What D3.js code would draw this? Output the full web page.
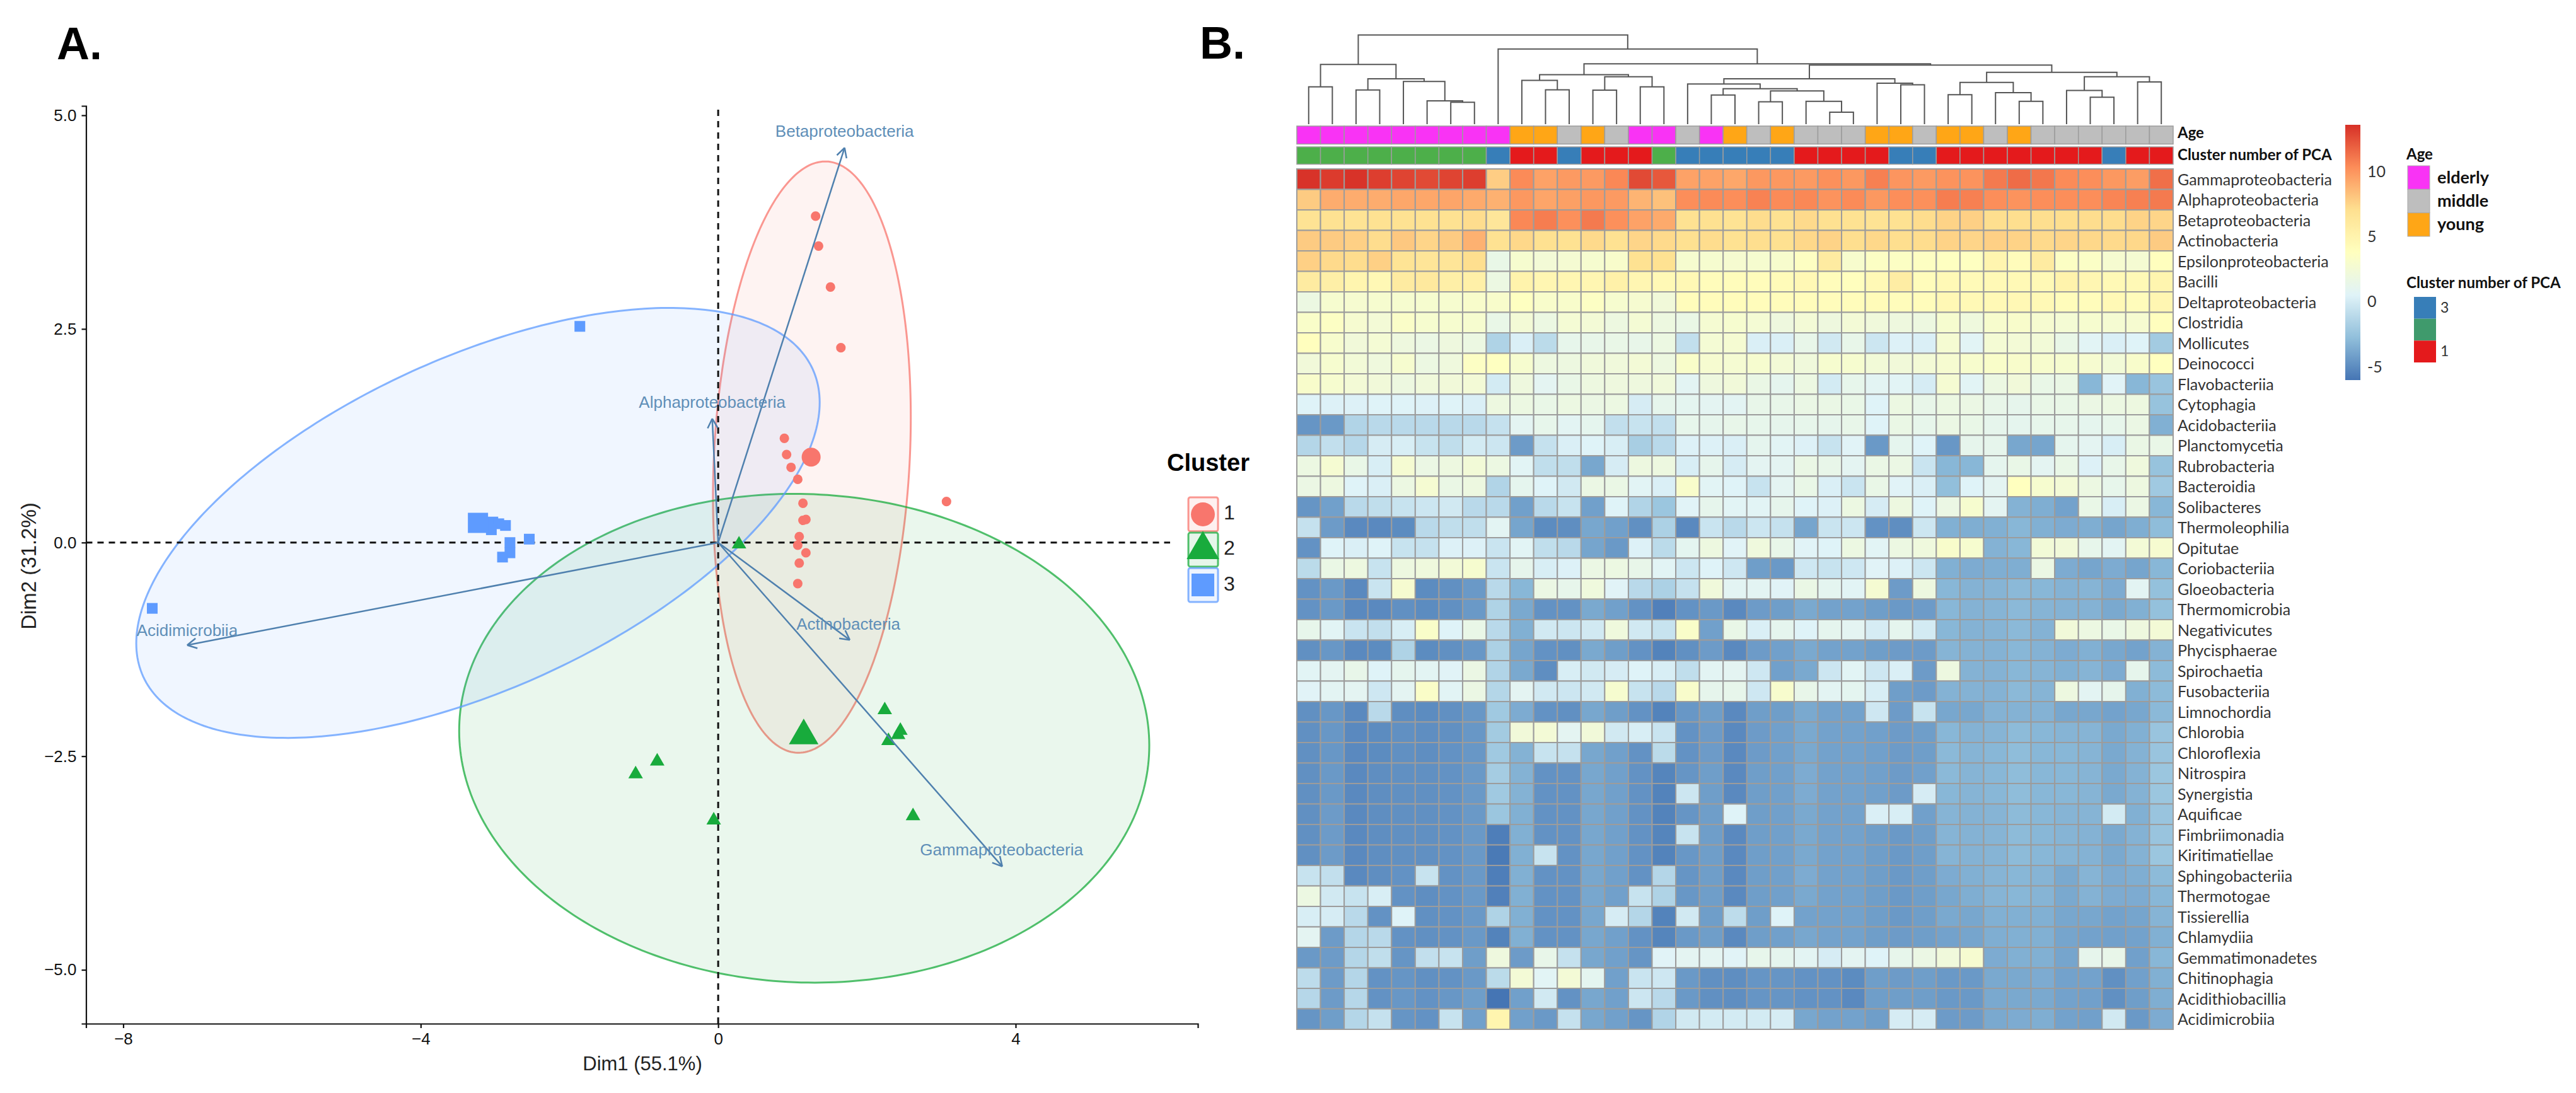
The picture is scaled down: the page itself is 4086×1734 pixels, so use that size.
<!DOCTYPE html>
<html>
<head>
<meta charset="utf-8">
<title>PCA biplot and heatmap</title>
<script src="https://d3js.org/d3.v7.min.js"></script>
<style>
	body {margin: 0; background: #fff;}
	svg {display: block;}
	text {font-family: "Liberation Sans", Arial, sans-serif;}
	.lato {font-family: Lato, sans-serif;}
</style>
</head>
<body>
<div id="chart"></div>
<script>
// ---- panel A values
var cluster1X = [1.31, 1.35, 1.51, 1.65, 0.89, 0.92, 0.98, 1.07, 1.14, 3.07, 1.18, 1.14, 1.09, 1.07, 1.18, 1.09, 1.07];
var cluster1Y = [3.82, 3.47, 2.99, 2.28, 1.22, 1.03, 0.88, 0.74, 0.46, 0.48, 0.27, 0.26, 0.07, -0.03, -0.12, -0.24, -0.48];
var cluster2X = [0.28, 2.24, 2.45, 2.42, 2.29, -0.82, -1.11, -0.06, 2.62];
var cluster2Y = [-0.02, -1.96, -2.2, -2.25, -2.32, -2.56, -2.71, -3.25, -3.2];
var cluster3X = [-1.86, -3.03, -2.86, -2.95, -3.05, -2.54, -2.8, -2.8, -2.9, -7.61];
var cluster3Y = [2.53, 0.24, 0.2, 0.22, 0.15, 0.04, 0, -0.12, -0.17, -0.77];
var clusterNames = ["1", "2", "3"];
var clusterColors = ["#F8766D", "#18AB3C", "#5E9BFF"];
var centroidX = [1.25, 1.15, -3.23];
var centroidY = [1.0, -2.26, 0.23];
// ellipse centre, half extents and correlation
var ellipseCx = [1.26, 1.157, -3.23];
var ellipseCy = [1.0, -2.29, 0.23];
var ellipseSx = [1.33, 4.64, 4.595];
var ellipseSy = [3.46, 2.86, 2.516];
var ellipseR = [0.135, -0.03, 0.56];

var arrowNames = ["Betaproteobacteria", "Alphaproteobacteria", "Actinobacteria", "Gammaproteobacteria", "Acidimicrobiia"];
var arrowX = [1.70, -0.08, 1.77, 3.82, -7.14];
var arrowY = [4.62, 1.45, -1.14, -3.79, -1.2];
var arrowLabelX = [1.70, -0.08, 1.75, 3.81, -7.14];
var arrowLabelY = [4.80, 1.63, -0.97, -3.61, -1.04];

var xTicks = [-8, -4, 0, 4];
var yTicks = [-5, -2.5, 0, 2.5, 5];

// ---- panel B values
var rowLabels = ["Gammaproteobacteria", "Alphaproteobacteria", "Betaproteobacteria", "Actinobacteria", "Epsilonproteobacteria", "Bacilli", "Deltaproteobacteria", "Clostridia", "Mollicutes", "Deinococci", "Flavobacteriia", "Cytophagia", "Acidobacteriia", "Planctomycetia", "Rubrobacteria", "Bacteroidia", "Solibacteres", "Thermoleophilia", "Opitutae", "Coriobacteriia", "Gloeobacteria", "Thermomicrobia", "Negativicutes", "Phycisphaerae", "Spirochaetia", "Fusobacteriia", "Limnochordia", "Chlorobia", "Chloroflexia", "Nitrospira", "Synergistia", "Aquificae", "Fimbriimonadia", "Kiritimatiellae", "Sphingobacteriia", "Thermotogae", "Tissierellia", "Chlamydiia", "Gemmatimonadetes", "Chitinophagia", "Acidithiobacillia", "Acidimicrobiia"];

var ageGroups = ["elderly", "middle", "young"];
var ageColors = ["#F933F5", "#BEBEBE", "#FFA616"];
var ageRow = [0,0,0,0,0,0,0,0,0,2,2,1,2,1,0,0,1,0,2,1,2,1,1,1,2,2,1,2,2,1,2,1,1,1,1,1,1];
var pcaRow = [2,2,2,2,2,2,2,2,3,1,1,3,1,1,1,2,3,3,3,3,3,1,1,1,1,3,3,1,1,1,1,1,1,1,3,1,1];
var pcaColors = {1: "#E41A1C", 2: "#4DAF4A", 3: "#377EB8"};
var pcaLegendNames = ["3", "", "1"];
var pcaLegendColors = ["#377EB8", "#3F9A6C", "#E41A1C"];

var heatValues = [
[13.6,13.3,13.6,13.2,13,12.8,13,13.2,7.9,10.5,9.6,9.9,9.9,10.6,12.8,12.3,9.6,9.6,9.4,10,10,9.9,10.3,10,10.9,10.1,9.9,10.2,10.2,11.1,11.6,11.2,10.5,10.4,10,9.8,11.5],
[8,9.2,9.2,9.2,9.4,9.4,9.5,9.3,9,10,9.5,9.7,10,9.9,8.9,8.4,10.4,10.5,10.4,10.8,10.5,10.6,10.2,10.5,10,10.4,10.3,11,10.9,10.4,10.2,10.4,10.4,10.4,10.7,10.9,11.1],
[6.9,7,6.9,7,7,7,7,7.3,6.5,10.6,11,10.3,11.1,10.3,9.6,9.3,7,7.1,6.9,7.3,7,7.4,7.1,7,6.9,7,7.3,7.7,7.8,7.2,7.2,7.2,7.2,7.3,7.3,7.7,7.6],
[8,8,7.8,7.3,8.1,7.6,8,9,7,7.5,7.1,7,7.4,7,7.6,7.4,7.1,7.3,7,7.2,7.1,7.5,7.7,7.2,7.5,7.2,7.3,7.7,7.6,7.8,7.7,7.4,7.6,7.5,7.4,7.5,8],
[7.8,7.4,7.3,7.8,6.8,6.6,6.6,7.2,1.6,3,2.6,2.8,3,3.2,7,7,3,3,2.9,3,3.1,3.7,6,3.1,3.6,3.6,3.7,3.8,3.8,5,4.2,6,3.6,3.5,2.9,2.8,4],
[6,5.6,5,4.6,6,6.2,5.6,5.5,1.9,5.2,4.8,4.8,4.8,5.4,4.8,4.5,4.6,4.2,4.2,4.2,4.3,4.6,4.2,4,4.5,5.8,4.2,4.5,4.4,4.5,4.5,4.5,5.2,4.8,4.5,4.5,5],
[1.9,3,2.9,3,3,3,3,3.2,3.2,3.8,3.2,3.2,3.6,3,2.9,2.4,4.2,4.2,4.2,4.2,4.2,4.2,4.2,4.2,4.3,4.2,4.2,4.6,4.5,4.5,4.6,4.5,4.2,4.2,4.5,4.2,4.8],
[3.3,3.6,2.9,2.6,3.4,3,3,3,1.6,2.6,1.9,2.7,2.6,2,2.7,2,1.7,2.8,3,2.7,2.1,2.6,2.1,2.6,2.3,2.1,2,3,2.2,3.1,3.2,2.9,2.7,3,2.8,2.9,4],
[4,3.1,2.4,2.7,2.1,1.8,2.1,1.9,-1.4,0.4,-0.9,1.4,1.5,1.6,1.5,1.9,-0.6,2.7,2.8,0.4,0.4,1.5,0,1.5,-0.2,0.5,0.4,2.8,0.8,2.7,2.6,2.5,1.6,0.8,0.4,0.6,-1.9],
[2.4,3,2.5,2.2,3,1.9,2.2,3.6,3.8,3,2,2,2.3,2.3,2.6,2,3.3,2.9,2.8,3,2.6,2.3,3,3,2.5,2.4,2.6,2.9,3.1,3.3,3.2,3.1,3,2.9,2.5,3.2,3.9],
[3.2,3,2.6,2.4,2,2.3,2.4,2.6,0.1,2.1,1,1.6,2,2.1,2.1,2.3,0.9,2.1,2.4,1.7,1.2,1.9,0.1,1.4,0.9,0.8,0.2,2.8,0.8,1.9,2.4,1.6,1.7,-3,0.7,-3,-2.3],
[0.6,0.5,0.5,0.6,0.6,0.5,0.6,0.4,2,1.9,1.6,1.9,1.8,1.9,0.2,1.3,1.1,1,0.9,1.5,1.5,1.7,1.7,1.6,0.6,1.9,1.5,1.9,1.8,1.5,1.3,1.6,1.6,1.8,1.9,2,-2.4],
[-4.5,-4.3,-1.3,-1,-1,-1,-1,-1,-0.5,1,1.4,0.9,1.2,-0.6,-0.4,-0.6,1.4,1.3,1.5,1.4,1.3,1.4,1.3,1.5,0.6,1.7,1.4,1.8,1.6,1.3,1.2,1.4,1.4,1.2,1.4,1.8,-3.3],
[-1.2,-0.6,-1.1,0.2,0.3,-0.4,-0.7,0.1,-0.2,-4.2,-0.5,0.4,0.6,0.3,-1.7,-1,0.5,0.5,0.4,1.2,0.8,0.5,-0.4,0.7,-4.3,1.2,0.6,-4.4,1.3,1.3,-3.7,-3.8,1.2,1,0.3,1.7,1.6],
[1.9,2.8,1.6,0.3,2.8,1.8,2,2.5,1.9,0.8,-0.7,-0.7,-3.7,0.2,2,2,0.3,1.3,0.2,1,1,1.7,1.5,1,1.7,1.8,-0.3,-3,-3,1.2,1.6,1,1.6,0.5,1.5,2.2,-2.4],
[1.8,2,0.6,0.4,1.9,2.8,1.7,2,-1.3,1.2,0.6,0,1.8,1.7,0.8,0.4,3.2,0.8,0.6,-0.4,1,1.6,0.4,-0.3,1.6,0.7,0.4,-2.6,0.6,1,3.9,3,2.6,1.9,1.4,2,-2],
[-4.5,-4,-1,-0.7,-0.4,-0.2,0,-1,-1,-4,-1,-0.4,-4,0.6,-1.3,-2.2,0.7,1.3,0.8,0.8,1.3,0.6,0.5,1.9,0.2,2,0.6,1.8,3,1,-3.2,-3.4,-3.9,1.6,0.3,1.8,-3],
[-0.5,-4.2,-5,-5,-4.9,-1,-0.7,-0.7,0.9,-3.8,-4.9,-4.8,-3.7,-4,-4.7,-1.5,-5,-0.3,-1,-0.2,-0.5,-3.8,-0.3,-0.2,-4.6,-4.8,-0.2,-3.3,-3.4,-3.3,-3,-3.3,-3.5,-3.4,-3.8,-3.4,-2.7],
[-4.6,0.6,0.4,0.6,-0.4,-0.5,0.5,0.5,-0.3,0.8,-0.7,-1,-3.8,-4.3,0.5,-0.9,1.1,2,0.7,2.2,1.5,0.7,0.6,1.9,0.8,1.9,2.2,3.2,3,-3.2,-3,2.5,2.4,1.4,0.9,2.6,2.9],
[-0.9,1.7,2,-0.4,2,2.2,2.5,3,-0.3,1.3,0.3,0.5,1.8,1.9,1.5,0.8,-0.2,0.6,-0.1,-4.1,-4.3,-0.1,-0.4,-0.1,0.7,0.5,-0.2,-3.3,-3.5,-3.4,-3.4,1.8,-3.5,-3.8,-3.5,-3.8,-3],
[-4.6,-4.3,-5,-0.3,2.9,-4.9,-4.7,-4.3,-1,-3,1.8,1.4,2.2,0.7,-1,-1.5,-0.5,2.3,0.9,0.9,0.7,1.7,1.1,0.8,2.8,-4.2,2,-3,-3.2,-3.1,-2.9,-3,-3.2,-3.1,-3.5,0.9,-2.5],
[-4.6,-4.3,-5,-5,-4.7,-4.9,-4.7,-4.3,-1.4,-3.6,-4.6,-4.6,-3.6,-4,-4.6,-5.4,-4.6,-4.3,-5,-4.2,-4.1,-3.6,-3.9,-3.9,-4.1,-4.3,-4.2,-3,-3.2,-3.1,-2.9,-3.1,-3.2,-3.2,-3.6,-3.3,-2.5],
[1.4,0.8,-0.3,-0.6,0.3,3.3,0.6,1.6,-1,-3.3,0,-0.2,0,2.2,0,-0.4,3.3,-4,1.6,0.4,1.2,0.6,1.2,1,0.2,1.2,0.1,-3,-3.2,-3.1,-2.9,-3.2,2.4,1.9,1.6,2.1,2.6],
[-4.7,-4.4,-5,-4.9,-1.4,-4.9,-4.7,-4.4,-1.5,-3.8,-4.6,-4.7,-3.6,-4.1,-4.6,-5.3,-4.7,-4.2,-5,-4.2,-4,-3.6,-3.9,-3.9,-4.1,-4.2,-4.2,-3.1,-3.2,-3.2,-3,-3.2,-3.5,-3.3,-3.7,-3.9,-3.2],
[0.8,1,1.5,0.6,1.2,0.9,0.7,1.8,-1.3,-3.6,-4.8,0.3,0,0.2,0.6,0.3,-0.7,0.9,1,-0.1,-4,-3.6,-0.2,0.8,-0.1,0.4,-4.2,2,-3.2,-3.2,-3,-3.1,-3.3,-3.1,-3.5,1.3,-2.8],
[0.7,0.9,1,-0.1,1,3.4,0.8,1.8,-1.2,1,0,-0.2,0,3,-0.4,-1,3.2,1.3,1.4,-0.1,3.1,1.5,0.9,1.1,0.3,-4.1,-4.2,-3.2,-3.2,-3.2,-2.9,-3.1,2,0.9,1.3,-3.3,-2.8],
[-4.7,-4.4,-5,-1,-4.8,-4.9,-4.7,-4.4,-2,-3.5,-4.6,-4.7,-3.7,-4.1,-4.6,-5.3,-4.4,-4.1,-5,-4.1,-4.1,-3.6,-3.9,-3.9,-0.1,-4.2,-0.4,-3.7,-3.7,-3.2,-3.2,-3.2,-3.7,-3.7,-3.9,-3.7,-2.9],
[-4.7,-4.4,-5,-4.9,-4.7,-4.8,-4.7,-4.4,-1.9,2.4,2.6,1,2.4,0,0.3,-0.3,-4.6,-4.2,-5,-4.2,-4,-3.6,-3.9,-3.9,-4,-4.2,-4.1,-3,-3.2,-3.1,-2.8,-3,-3.1,-3.1,-3.6,-3.3,-2.3],
[-4.7,-4.4,-5,-4.9,-4.7,-4.8,-4.6,-4.4,-2,-3.2,-0.4,-0.5,-3.7,-4,-4.6,-0.9,-4.6,-4.2,-5,-4.2,-4,-3.6,-3.9,-3.9,-4,-4.2,-4.1,-2.9,-3.1,-3,-2.7,-3,-3,-3.1,-3.6,-3.2,-2.3],
[-4.7,-4.3,-5,-4.8,-4.7,-4.7,-4.6,-4.3,-1.8,-3.2,-4.6,-4.6,-3.7,-4,-4.6,-5.2,-4.5,-4.1,-5,-4.1,-4,-3.5,-3.9,-3.9,-4,-4.2,-4,-2.9,-3.1,-3,-2.7,-3,-3,-3.1,-3.6,-3.2,-2.2],
[-4.7,-4.3,-5,-4.8,-4.7,-4.7,-4.6,-4.3,-2,-3.2,-4.6,-4.6,-3.7,-4,-4.6,-5.3,-0.2,-4.1,-5,-4.1,-4,-3.5,-3.9,-3.9,-4,-4.2,0.2,-3,-3.1,-3,-2.7,-3,-3,-3.1,-3.6,-3.2,-2.2],
[-4.7,-4.2,-5,-4.8,-4.7,-4.7,-4.6,-4.3,-2.2,-3.3,-4.6,-4.6,-3.7,-4,-4.6,-5.3,-4.5,-4.1,0.6,-4.1,-4,-3.6,-3.9,-3.9,0.4,0.3,-4,-3.1,-3.2,-3.1,-2.8,-3,-3.1,-3.1,0.1,-3.3,-2.3],
[-4.7,-4.2,-5,-4.8,-4.7,-4.7,-4.6,-4.3,-5.5,-3.3,-4.6,-4.6,-3.7,-4,-4.6,-5.2,-0.4,-4.1,-5,-4.1,-4,-3.6,-3.9,-3.9,-4.1,-4.3,-4.1,-3.1,-3.2,-3.1,-2.8,-3,-3.1,-3.2,-3.6,-3.2,-2.3],
[-4.7,-4.2,-5,-4.8,-4.7,-4.7,-4.6,-4.3,-5.7,-3.3,-0.4,-4.6,-3.7,-4,-4.6,-5.3,-4.4,-4.1,-5,-4.1,-4,-3.6,-3.9,-3.9,-4.1,-4.3,-4.1,-3.1,-3.2,-3.1,-2.8,-3,-3.1,-3.2,-3.6,-3.2,-2.2],
[-0.4,-0.6,-5,-4.8,-4.6,-0.4,-4.6,-4.3,-5.5,-3.3,-4.6,-4.6,-3.7,-4,-4.6,-1.2,-4.5,-4.1,-5,-4.1,-4,-3.5,-3.9,-3.9,-4.1,-4.3,-4.1,-3.5,-3.3,-3.1,-3,-3.1,-3.6,-3.1,-3.5,-3.4,-2.8],
[1.9,0,-0.4,0.3,-4.6,-4.8,-4.6,-4.3,-5.4,-3.3,-4.6,-4.6,-3.7,-4,-0.4,-1.4,-4.4,-4.1,-5,-4.1,-4,-3.6,-3.9,-3.9,-4.1,-4.3,-4.1,-3.7,-3.4,-3.1,-3,-3.1,-3.6,-3.2,-3.5,-3.5,-3],
[0.3,0.2,-1,-4.6,0.6,-4.7,-4.6,-4.3,-1.4,-3.3,-4.6,-4.6,-3.7,0.2,-1.2,-5.3,0,-4.1,-0.8,-4.1,0.6,-3.9,-3.9,-3.9,-4.1,-4.3,-4.1,-3.6,-3.7,-3.3,-3.3,-3.3,-3.7,-3.7,-3.9,-3.8,-3.1],
[1,-4.2,-1.2,-1,-4.6,-4.7,-4.6,-4.3,-5.3,-3.3,-4.6,-4.6,-3.7,-4,-4.6,-5.2,-4.3,-4.1,-5,-4.1,-4,-3.7,-3.9,-3.9,-4.1,-4.2,-4.1,-3.9,-3.8,-3.4,-3.3,-3.3,-3.8,-3.9,-4,-3.9,-3.3],
[-4.3,-4.2,-1.2,-0.7,-4.5,-0.6,-0.4,-4.1,2.1,-4.2,1.5,-0.5,-3.7,-4,-4.5,0.7,1,1,0.7,1.4,1.2,0.9,0.2,1,0.6,1.4,1.8,2.3,2.9,-3.5,-3.3,-3.3,-3.8,1.3,1.5,-4,-3],
[-0.8,-4.2,-1.2,-4.6,-4.5,-4.7,-4.6,-4.3,-0.9,2.6,0.8,2.6,1.1,-4,-0.3,-0.1,-4.3,-4.7,-4.8,-4.5,-4.5,-4.6,-4.6,-4.9,-4.1,-4.2,-4.1,-4.3,-4.3,-3.6,-3.6,-3.5,-3.9,-3.9,-4.7,-4,-3.3],
[-1.1,-4.2,-1.1,-4.6,-4.4,-4.6,-4.4,-4.1,-5.9,-4,0,-4.6,-3.7,-4,-0.2,-1,-4.3,-4.7,-4.8,-4.5,-4.5,-4.6,-4.6,-5,-4.1,-4.1,-4.1,-4.3,-4.3,-3.6,-3.6,-3.6,-3.9,-4,-4.7,-4.1,-3.4],
[-4.5,-4.1,-1.2,-0.5,-4.5,-4.6,-0.4,-4,5,-4,-4.3,-0.5,-3.7,-4,-4.5,-1.3,0,0.1,0.1,0.1,0.2,-3.7,-3.9,-3.9,-4.1,0.2,0.2,-4.2,-4.2,-3.6,-3.5,-3.4,-3.9,-4,0,-4.3,-3.5]
];

// dendrogram merges: name, left child, right child, height (root = 100); numbers are column leaves
var dendroMerges = [
["a",0,1,41.9],["b",2,3,38.4],["c",6,7,24.6],["d",5,"c",26.2],["e",4,"d",47.8],["f","b","e",50.8],["g","a","f",67.0],
["i",10,11,38.6],["j",9,"i",49.2],["k",12,13,38.1],["l",14,15,41.9],["m","k","l",53.2],["n","j","m",55.4],
["q",17,18,32.7],["r",19,20,25.1],["s",22,23,13.5],["t",21,"s",25.7],["u","r","t",37.3],["v","q","u",39.7],["o",16,"v",45.1],
["x",25,26,44.1],["w",24,"x",45.9],["y","o","w",50.8],
["dd",27,28,33],["h30",30,31,25.7],["ee",29,"h30",35.4],["cc","dd","ee",46.8],
["h33",33,34,30.3],["gg",32,"h33",37.8],["hh",35,36,47.3],["ff","gg","hh",53.2],["bb","cc","ff",58.1],
["aa","y","bb",66.2],["top","n","aa",67.6],["mid",8,"top",84.3],["root","g","mid",100]
];

var colorStops = [-5.9, -2.63, 0.63, 3.9, 7.17, 10.43, 13.7];
var colorRange = ["#4575B4", "#91BFDB", "#E0F3F8", "#FFFFBF", "#FEE090", "#FC8D59", "#D73027"];
var colorbarTicks = [-5, 0, 5, 10];

var svg = d3.select("#chart").append("svg").attr("width", 4086).attr("height", 1734);

// ---------- panel A
var x = d3.scaleLinear().domain([-8.5, 6.45]).range([136.5, 1900]);
var y = d3.scaleLinear().domain([-5.63, 5.11]).range([1624, 168]);
var steel = "#4F80AE";

svg.append("text").text("A.").attr("x", 90).attr("y", 94)
	.style("font-size", "72px").style("font-weight", "bold");

// ellipses
clusterNames.forEach(function(name, i) {
	var phi = Math.acos(ellipseR[i]);
	var outline = d3.range(0, 2 * Math.PI, 0.02).map(function(t) {
		return [x(ellipseCx[i] + ellipseSx[i] * Math.cos(t)), y(ellipseCy[i] + ellipseSy[i] * Math.cos(t + phi))];
	});
	svg.append("path")
		.attr("d", d3.line().curve(d3.curveLinearClosed)(outline))
		.style("fill", clusterColors[i]).style("fill-opacity", 0.09)
		.style("stroke", clusterColors[i]).style("stroke-opacity", 0.75).style("stroke-width", 3);
});

// dashed zero lines
svg.append("line").attr("x1", x(0)).attr("x2", x(0)).attr("y1", 174).attr("y2", y.range()[0])
	.style("stroke", "#111").style("stroke-width", 3).style("stroke-dasharray", "10,8");
svg.append("line").attr("x1", x.range()[0]).attr("x2", 1856).attr("y1", y(0)).attr("y2", y(0))
	.style("stroke", "#111").style("stroke-width", 3).style("stroke-dasharray", "10,8");

// points
var symbolTypes = [d3.symbolCircle, d3.symbolTriangle, d3.symbolSquare];
var smallSizes = [180, 230, 290];
var bigSizes = [710, 950, 1024];
function drawPoints(xs, ys, i) {
	xs.forEach(function(v, j) {
		svg.append("path")
			.attr("d", d3.symbol().type(symbolTypes[i]).size(smallSizes[i])())
			.attr("transform", "translate(" + x(v) + "," + y(ys[j]) + ")")
			.style("fill", clusterColors[i]);
	});
	svg.append("path")
		.attr("d", d3.symbol().type(symbolTypes[i]).size(bigSizes[i])())
		.attr("transform", "translate(" + x(centroidX[i]) + "," + y(centroidY[i]) + ")")
		.style("fill", clusterColors[i]);
}
drawPoints(cluster1X, cluster1Y, 0);
drawPoints(cluster2X, cluster2Y, 1);
drawPoints(cluster3X, cluster3Y, 2);

// arrows
arrowNames.forEach(function(name, i) {
	var x0 = x(0), y0 = y(0), x1 = x(arrowX[i]), y1 = y(arrowY[i]);
	var a = Math.atan2(y1 - y0, x1 - x0);
	svg.append("line").attr("x1", x0).attr("y1", y0).attr("x2", x1).attr("y2", y1)
		.style("stroke", steel).style("stroke-width", 2.5);
	[2.65, -2.65].forEach(function(d) {
		svg.append("line").attr("x1", x1).attr("y1", y1)
			.attr("x2", x1 + 17 * Math.cos(a + d)).attr("y2", y1 + 17 * Math.sin(a + d))
			.style("stroke", steel).style("stroke-width", 2.5);
	});
	svg.append("text").text(name)
		.attr("x", x(arrowLabelX[i])).attr("y", y(arrowLabelY[i]))
		.attr("text-anchor", "middle").attr("dominant-baseline", "middle")
		.style("font-size", "26px").style("fill", "#5F8FB8");
});

// axes
var xAxis = svg.append("g").attr("transform", "translate(0," + y.range()[0] + ")")
	.call(d3.axisBottom(x).tickValues(xTicks).tickSize(7).tickPadding(8));
var yAxis = svg.append("g").attr("transform", "translate(" + x.range()[0] + ",0)")
	.call(d3.axisLeft(y).tickValues(yTicks).tickFormat(d3.format(".1f")).tickSize(7).tickPadding(8));
[xAxis, yAxis].forEach(function(a) {
	a.selectAll("text").style("font-size", "26px").style("font-family", "Liberation Sans").style("fill", "#111");
	a.selectAll("path, line").style("stroke", "#111").style("stroke-width", 2.2);
});
svg.append("text").text("Dim1 (55.1%)").attr("x", 1019).attr("y", 1698)
	.attr("text-anchor", "middle").style("font-size", "31px").style("fill", "#222");
svg.append("text").text("Dim2 (31.2%)").attr("transform", "translate(57,898) rotate(-90)")
	.attr("text-anchor", "middle").style("font-size", "33px").style("fill", "#222");

// cluster legend
svg.append("text").text("Cluster").attr("x", 1851).attr("y", 747)
	.style("font-size", "38px").style("font-weight", "bold");
var legendTop = d3.scaleBand().domain(clusterNames).range([789, 955]).paddingInner(0.04);
clusterNames.forEach(function(name, i) {
	var cy = legendTop(name) + legendTop.bandwidth() / 2;
	svg.append("rect").attr("x", 1885).attr("y", legendTop(name)).attr("width", 47).attr("height", legendTop.bandwidth())
		.attr("rx", 3)
		.style("fill", clusterColors[i]).style("fill-opacity", 0.11)
		.style("stroke", clusterColors[i]).style("stroke-opacity", 0.75).style("stroke-width", 3);
	svg.append("path").attr("d", d3.symbol().type(symbolTypes[i]).size([1130, 1150, 1300][i])())
		.attr("transform", "translate(1908," + cy + ")").style("fill", clusterColors[i]);
	svg.append("text").text(name).attr("x", 1941).attr("y", cy).attr("dominant-baseline", "middle")
		.style("font-size", "32px").style("fill", "#222");
});

// ---------- panel B
svg.append("text").text("B.").attr("x", 1903).attr("y", 93)
	.style("font-size", "72px").style("font-weight", "bold");

var cols = d3.range(37);
var xH = d3.scaleBand().domain(cols).range([2057, 3447]);
var yH = d3.scaleBand().domain(rowLabels).range([268, 1633]);
var color = d3.scaleLinear().domain(colorStops).range(colorRange);
var gridGray = "#9C9C9C";

// dendrogram
var yD = d3.scaleLinear().domain([0, 100]).range([197, 55.5]);
var nodeX = {}, nodeH = {};
cols.forEach(function(c) { nodeX[c] = xH(c) + xH.bandwidth() / 2; nodeH[c] = 0; });
dendroMerges.forEach(function(m) {
	var p = d3.path();
	p.moveTo(nodeX[m[1]], yD(nodeH[m[1]]));
	p.lineTo(nodeX[m[1]], yD(m[3]));
	p.lineTo(nodeX[m[2]], yD(m[3]));
	p.lineTo(nodeX[m[2]], yD(nodeH[m[2]]));
	svg.append("path").attr("d", p.toString())
		.style("fill", "none").style("stroke", "#555").style("stroke-width", 2);
	nodeX[m[0]] = (nodeX[m[1]] + nodeX[m[2]]) / 2;
	nodeH[m[0]] = m[3];
});

// annotation strips
svg.selectAll(".age").data(ageRow).enter().append("rect").attr("class", "age")
	.attr("x", function(d, i) { return xH(i); }).attr("y", 200)
	.attr("width", xH.bandwidth()).attr("height", 28.5)
	.style("fill", function(d) { return ageColors[d]; })
	.style("stroke", gridGray).style("stroke-width", 1.5);
svg.selectAll(".pca").data(pcaRow).enter().append("rect").attr("class", "pca")
	.attr("x", function(d, i) { return xH(i); }).attr("y", 233)
	.attr("width", xH.bandwidth()).attr("height", 27.5)
	.style("fill", function(d) { return pcaColors[d]; })
	.style("stroke", gridGray).style("stroke-width", 1.5);

// heat cells
heatValues.forEach(function(row, r) {
	svg.selectAll(".r" + r).data(row).enter().append("rect").attr("class", "r" + r)
		.attr("x", function(d, i) { return xH(i); })
		.attr("y", yH(rowLabels[r]))
		.attr("width", xH.bandwidth()).attr("height", yH.bandwidth())
		.style("fill", function(d) { return color(d); })
		.style("stroke", gridGray).style("stroke-width", 2);
});

// labels at the right of the heatmap
svg.append("text").text("Age").attr("class", "lato").attr("x", 3454).attr("y", 219)
	.style("font-size", "24px").style("font-weight", "bold").style("fill", "#111");
svg.append("text").text("Cluster number of PCA").attr("class", "lato").attr("x", 3454).attr("y", 254)
	.style("font-size", "24px").style("font-weight", "bold").style("fill", "#111");
rowLabels.forEach(function(name) {
	svg.append("text").text(name).attr("class", "lato").attr("x", 3454)
		.attr("y", yH(name) + yH.bandwidth() / 2 + 3).attr("dominant-baseline", "middle")
		.style("font-size", "25px").style("fill", "#333");
});

// colorbar
var yC = d3.scaleLinear().domain([colorStops[0], colorStops[6]]).range([603, 198]);
var grad = svg.append("defs").append("linearGradient").attr("id", "colorbar")
	.attr("x1", 0).attr("x2", 0).attr("y1", 1).attr("y2", 0);
colorStops.forEach(function(s, i) {
	grad.append("stop").attr("offset", (s - colorStops[0]) / (colorStops[6] - colorStops[0]))
		.attr("stop-color", colorRange[i]);
});
svg.append("rect").attr("x", 3720).attr("y", yC.range()[1]).attr("width", 24)
	.attr("height", yC.range()[0] - yC.range()[1]).style("fill", "url(#colorbar)");
colorbarTicks.forEach(function(t) {
	svg.append("text").text(t).attr("class", "lato").attr("x", 3755).attr("y", yC(t))
		.attr("dominant-baseline", "middle").style("font-size", "25px").style("fill", "#333");
});

// age legend
svg.append("text").text("Age").attr("class", "lato").attr("x", 3817).attr("y", 253)
	.style("font-size", "24px").style("font-weight", "bold").style("fill", "#111");
var yAge = d3.scaleBand().domain(ageGroups).range([263, 375]);
ageGroups.forEach(function(name, i) {
	svg.append("rect").attr("x", 3819).attr("y", yAge(name)).attr("width", 35).attr("height", yAge.bandwidth())
		.style("fill", ageColors[i]).style("stroke", "#aaa").style("stroke-width", 1);
	svg.append("text").text(name).attr("class", "lato").attr("x", 3866)
		.attr("y", yAge(name) + yAge.bandwidth() / 2 + 2).attr("dominant-baseline", "middle")
		.style("font-size", "27px").style("font-weight", "bold").style("fill", "#111");
});

// PCA cluster legend
svg.append("text").text("Cluster number of PCA").attr("class", "lato").attr("x", 3817).attr("y", 457)
	.style("font-size", "24px").style("font-weight", "bold").style("fill", "#111");
var yPca = d3.scaleBand().domain(d3.range(3)).range([471, 575]);
pcaLegendColors.forEach(function(c, i) {
	svg.append("rect").attr("x", 3829).attr("y", yPca(i)).attr("width", 35).attr("height", yPca.bandwidth())
		.style("fill", c);
	svg.append("text").text(pcaLegendNames[i]).attr("class", "lato").attr("x", 3871)
		.attr("y", yPca(i) + yPca.bandwidth() / 2 + 2).attr("dominant-baseline", "middle")
		.style("font-size", "23px").style("fill", "#333");
});
</script>
</body>
</html>
